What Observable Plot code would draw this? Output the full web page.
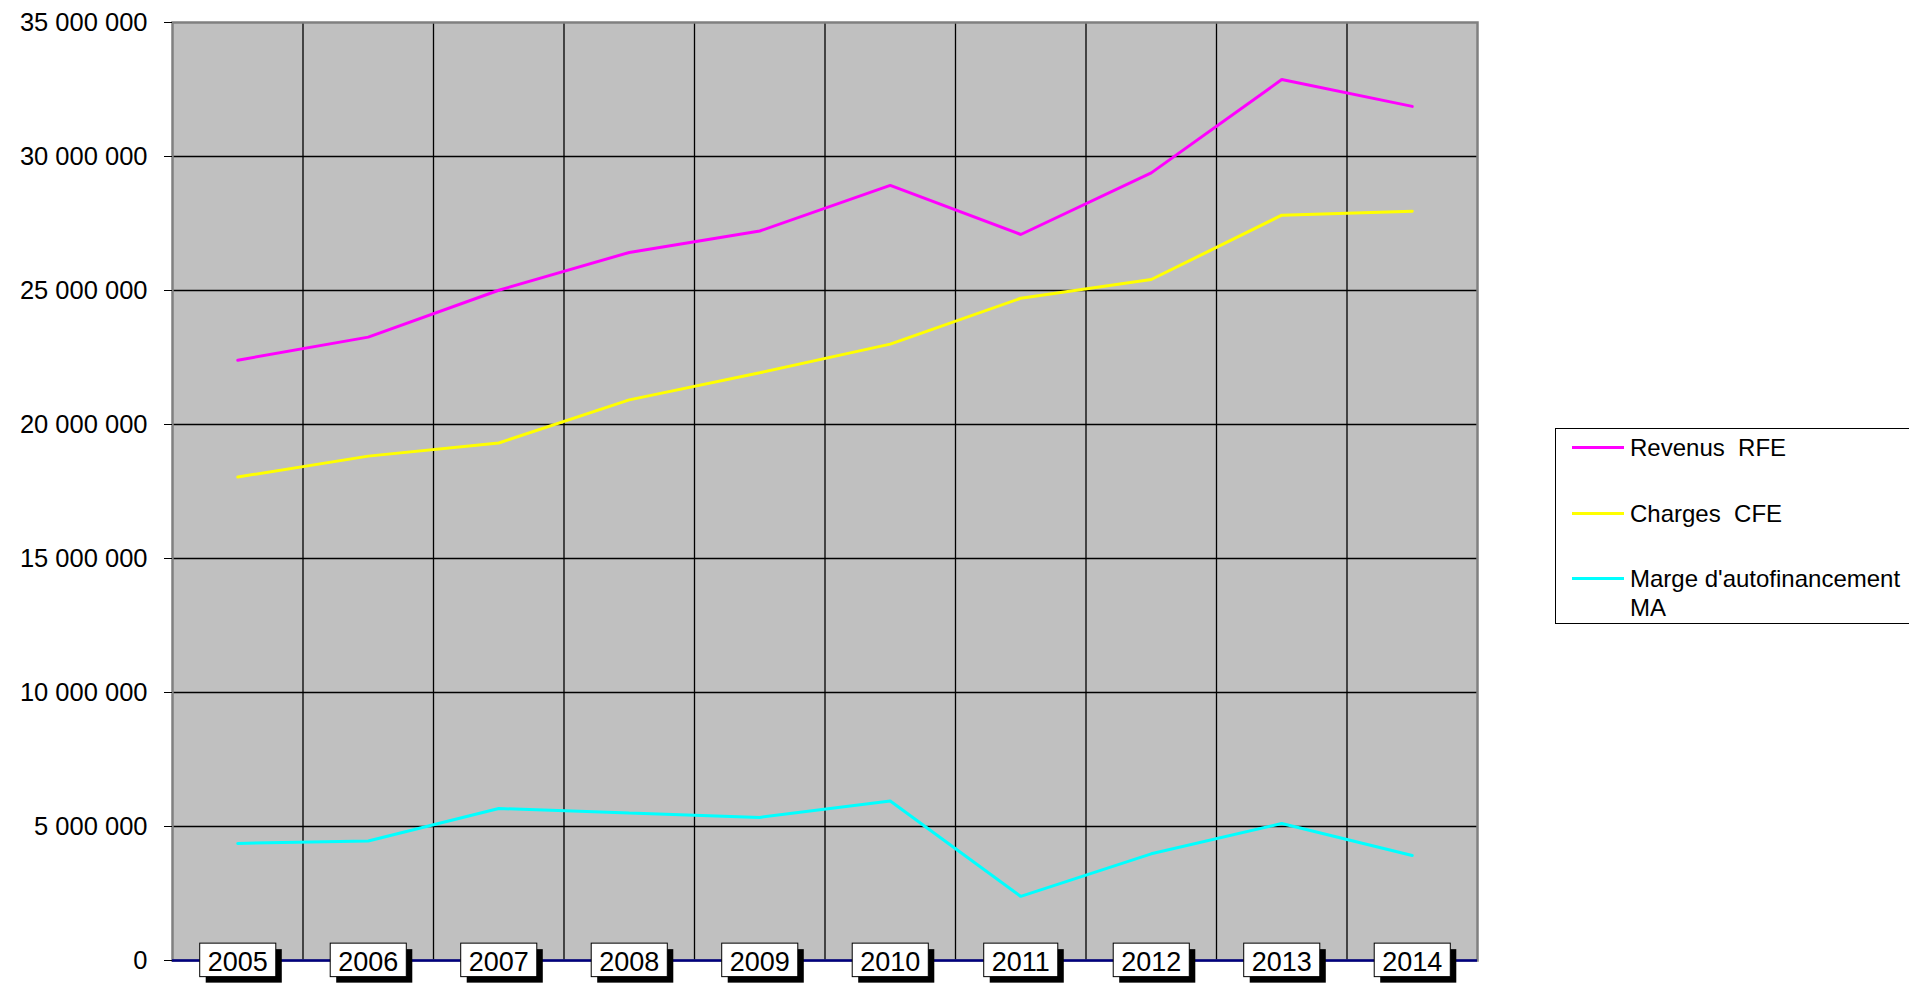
<!DOCTYPE html>
<html>
<head>
<meta charset="utf-8">
<script src="https://cdn.jsdelivr.net/npm/d3@7"></script>
<script src="https://cdn.jsdelivr.net/npm/@observablehq/plot@0.6"></script>
<style>
  html, body { margin: 0; padding: 0; background: #fff; overflow: hidden; }
  #chart { position: absolute; left: 0; top: 0; width: 1909px; height: 985px; }
  #chart svg { max-width: none; overflow: visible; }
  #legend { position: absolute; left: 1555px; top: 428px; width: 420px; height: 196px;
            border: 1px solid #000; box-sizing: border-box; background: #fff;
            font-family: "Liberation Sans", Arial, sans-serif; font-size: 24px; color: #000; }
  .lg-swatch { position: absolute; left: 16px; width: 52px; height: 3px; }
  .lg-text { position: absolute; left: 74px; line-height: 29px; white-space: pre; }
</style>
</head>
<body>
<div id="chart"></div>
<div id="legend"></div>
<script>
// ---- data ----
const years = [2005, 2006, 2007, 2008, 2009, 2010, 2011, 2012, 2013, 2014];
const revenusRFE = [22400000, 23260000, 25010000, 26420000, 27220000, 28920000, 27090000, 29390000, 32870000, 31870000];
const chargesCFE = [18040000, 18820000, 19310000, 20920000, 21930000, 23000000, 24710000, 25410000, 27810000, 27960000];
const margeMA   = [4370000, 4460000, 5670000, 5500000, 5340000, 5950000, 2390000, 3980000, 5110000, 3920000];
const seriesNames = ["Revenus  RFE", "Charges  CFE", "Marge d'autofinancement\nMA"];
const seriesColors = ["#FF00FF", "#FFFF00", "#00FFFF"];
const yTicks = [0, 5000000, 10000000, 15000000, 20000000, 25000000, 30000000, 35000000];

// ---- table ----
const seriesValues = [revenusRFE, chargesCFE, margeMA];
const rows = [];
seriesNames.forEach((name, s) => years.forEach((yr, i) => rows.push({year: yr, value: seriesValues[s][i], series: name})));
const boundaries = years.map(y => y - 0.5).slice(1); // inner band boundaries
const fmt = d => d3.format(",")(d).replace(/,/g, " ");

const chart = Plot.plot({
  width: 1909,
  height: 985,
  marginLeft: 172,
  marginRight: 432,
  marginTop: 22,
  marginBottom: 25,
  style: {fontFamily: "'Liberation Sans', Arial, sans-serif", background: "transparent", color: "#000", overflow: "visible"},
  x: {type: "linear", domain: [years[0] - 0.5, years[years.length - 1] + 0.5], axis: null},
  y: {domain: [yTicks[0], yTicks[yTicks.length - 1]], axis: null},
  color: {domain: seriesNames, range: seriesColors},
  marks: [
    Plot.frame({fill: "#C0C0C0", stroke: "none"}),
    Plot.ruleY(yTicks.slice(1, -1), {stroke: "#000", strokeWidth: 1.3}),
    Plot.ruleX(boundaries, {stroke: "#000", strokeWidth: 1.3}),
    Plot.frame({stroke: "#808080", strokeWidth: 2.5}),
    Plot.axisY({ticks: yTicks, tickSize: 8, tickPadding: 17, fontSize: 25.5, tickFormat: fmt, label: null, stroke: "#000"}),
    Plot.line(rows, {x: "year", y: "value", z: "series", stroke: "series", strokeWidth: 3, strokeLinejoin: "miter"}),
    Plot.ruleY([0], {stroke: "#000080", strokeWidth: 2.5}),
    Plot.text(years, {x: d => d, y: 0, dy: 2, text: d => String(d), fontSize: 27, fill: "#000", ariaDescription: "year-labels"})
  ]
});
document.getElementById("chart").appendChild(chart);

// boxed, shadowed year labels (decoration around the library's own text positions)
const NS = "http://www.w3.org/2000/svg";
let g = chart.querySelector('g[aria-description="year-labels"]');
if (!g) {
  const groups = chart.querySelectorAll('g[aria-label="text"]');
  g = groups[groups.length - 1];
}
if (g) {
  for (const t of Array.from(g.querySelectorAll("text"))) {
    const bb = t.getBBox();
    const tr = t.getAttribute("transform");
    const bx = bb.x - 8, by = bb.y - 4, bw = bb.width + 16, bh = bb.height + 3.5;
    const shadow = document.createElementNS(NS, "rect");
    shadow.setAttribute("x", bx + 6); shadow.setAttribute("y", by + 6);
    shadow.setAttribute("width", bw); shadow.setAttribute("height", bh);
    shadow.setAttribute("fill", "#000");
    const box = document.createElementNS(NS, "rect");
    box.setAttribute("x", bx); box.setAttribute("y", by);
    box.setAttribute("width", bw); box.setAttribute("height", bh);
    box.setAttribute("fill", "#fff"); box.setAttribute("stroke", "#000"); box.setAttribute("stroke-width", 1);
    if (tr) { shadow.setAttribute("transform", tr); box.setAttribute("transform", tr); }
    g.insertBefore(shadow, t);
    g.insertBefore(box, t);
  }
}

// legend
const legend = document.getElementById("legend");
const rowCenters = [18, 84, 149];
seriesNames.forEach((name, i) => {
  const sw = document.createElement("div");
  sw.className = "lg-swatch";
  sw.style.top = (rowCenters[i] - 1.5) + "px";
  sw.style.background = seriesColors[i];
  legend.appendChild(sw);
  const tx = document.createElement("div");
  tx.className = "lg-text";
  tx.style.top = (rowCenters[i] - 14.5) + "px";
  tx.textContent = name;
  legend.appendChild(tx);
});
</script>
</body>
</html>
